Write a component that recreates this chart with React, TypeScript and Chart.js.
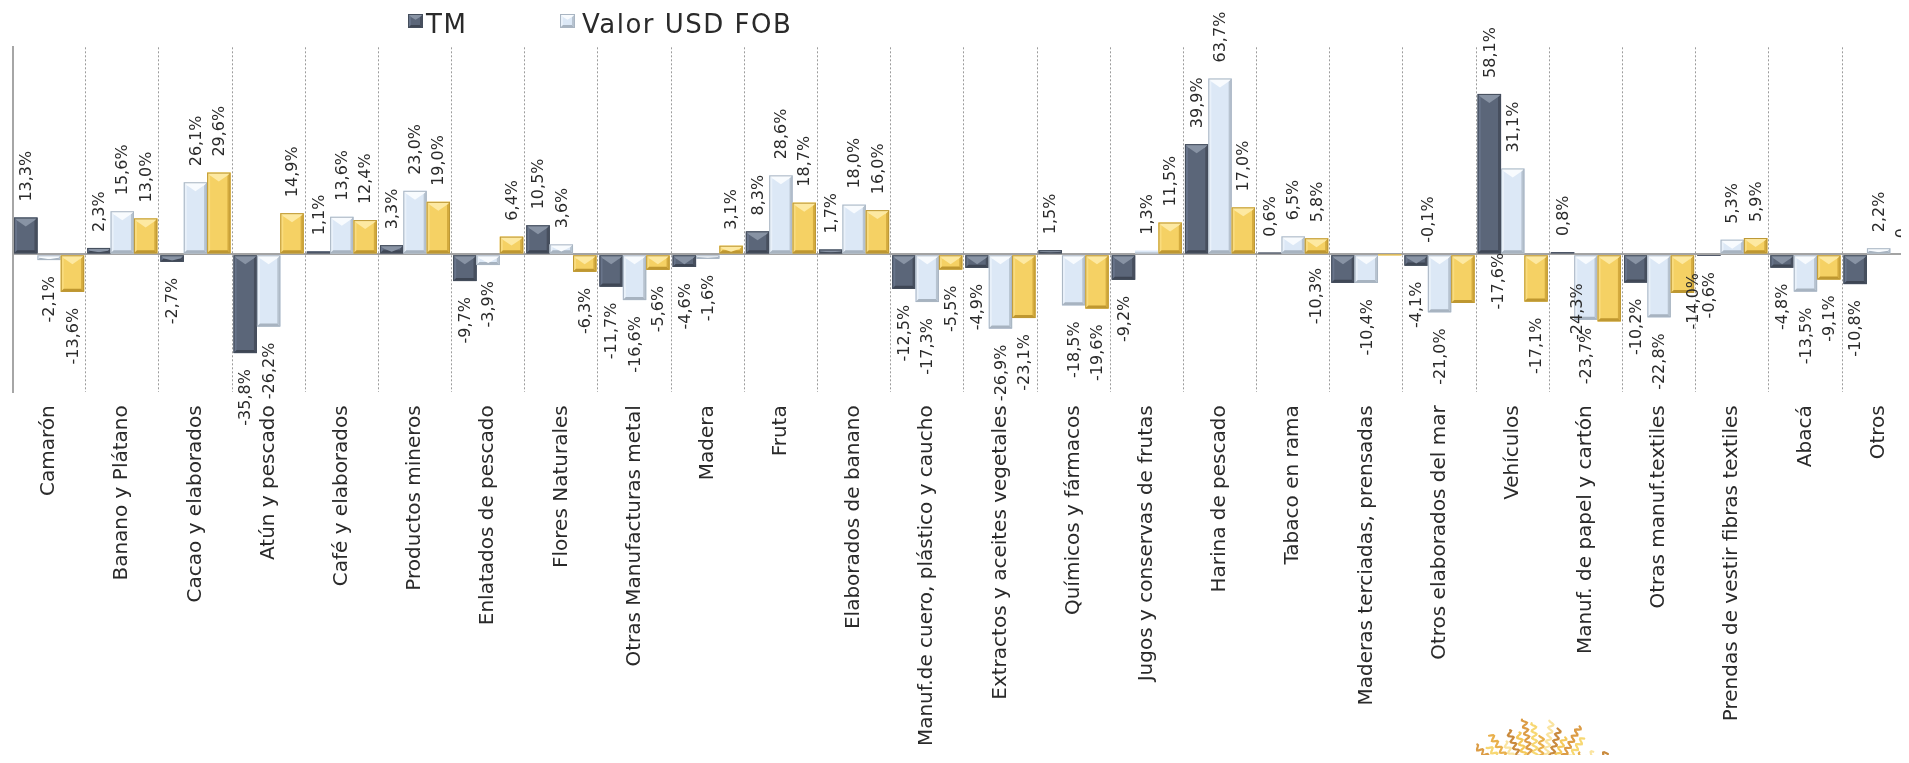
import React, { useEffect, useRef } from 'react';
import { Chart, registerables } from 'chart.js';

Chart.register(...registerables);

const categories = [
  'Camarón',
  'Banano y Plátano',
  'Cacao y elaborados',
  'Atún y pescado',
  'Café y elaborados',
  'Productos mineros',
  'Enlatados de pescado',
  'Flores Naturales',
  'Otras Manufacturas metal',
  'Madera',
  'Fruta',
  'Elaborados de banano',
  'Manuf.de cuero, plástico y caucho',
  'Extractos y aceites vegetales',
  'Químicos y fármacos',
  'Jugos y conservas de frutas',
  'Harina de pescado',
  'Tabaco en rama',
  'Maderas terciadas, prensadas',
  'Otros elaborados del mar',
  'Vehículos',
  'Manuf. de papel y cartón',
  'Otras manuf.textiles',
  'Prendas de vestir fibras textiles',
  'Abacá',
  'Otros',
];

const tmValues = [13.3, 2.3, -2.7, -35.8, 1.1, 3.3, -9.7, 10.5, -11.7, -4.6, 8.3, 1.7, -12.5, -4.9, 1.5, -9.2, 39.9, 0.6, -10.3, -4.1, 58.1, 0.8, -10.2, -0.6, -4.8, -10.8];
const valorValues = [-2.1, 15.6, 26.1, -26.2, 13.6, 23.0, -3.9, 3.6, -16.6, -1.6, 28.6, 18.0, -17.3, -26.9, -18.5, 1.3, 63.7, 6.5, -10.4, -21.0, 31.1, -23.7, -22.8, 5.3, -13.5, 2.2];
const precioValues = [-13.6, 13.0, 29.6, 14.9, 12.4, 19.0, 6.4, -6.3, -5.6, 3.1, 18.7, 16.0, -5.5, -23.1, -19.6, 11.5, 17.0, 5.8, -0.1, -17.6, -17.1, -24.3, -14.0, 5.9, -9.1, 0];

const seriesNames = ['TM', 'Valor USD FOB', 'Precio'];
const legendSeries = ['TM', 'Valor USD FOB'];

const yMin = -50;
const yMax = 75;
const yStep = 25;

// manual label displacements (px) as placed in the original
const labelNudges = [
  { series: 0, index: 18, dx: -27, dy: -31 },
  { series: 2, index: 18, dx: 38, dy: -75 },
  { series: 2, index: 19, dx: 35, dy: -66 },
  { series: 1, index: 21, dx: 0, dy: -8 },
  { series: 2, index: 21, dx: -32, dy: -54 },
  { series: 2, index: 22, dx: 10, dy: -36 },
];

const FONT = '"DejaVu Sans", "Liberation Sans", sans-serif';
const WEIGHT = 'normal';
const TEXT = '#2a2a2a';

const palettes = [
  { base: '#5b6679', top: '#8893a4', left: '#68748a', right: '#474f5e', bottom: '#3e4654', edge: '#454e5c' },
  { base: '#dce8f6', top: '#f8fbfe', left: '#e9f1fa', right: '#b7c3d0', bottom: '#a7b3c0', edge: '#a9b5c2' },
  { base: '#f5d164', top: '#fde9a2', left: '#f9dc7e', right: '#d4ab3e', bottom: '#bf972f', edge: '#bd9836' },
];

function poly(ctx: CanvasRenderingContext2D, pts: number[][], color: string) {
  ctx.beginPath();
  ctx.moveTo(pts[0][0], pts[0][1]);
  for (let i = 1; i < pts.length; i++) ctx.lineTo(pts[i][0], pts[i][1]);
  ctx.closePath();
  ctx.fillStyle = color;
  ctx.fill();
}

function bevelRect(ctx: CanvasRenderingContext2D, l: number, t: number, r: number, b: number, p: any) {
  const w = r - l;
  const h = b - t;
  if (w <= 0 || h <= 0) return;
  ctx.fillStyle = p.base;
  ctx.fillRect(l, t, w, h);
  if (h < 3) {
    ctx.fillStyle = p.right;
    ctx.fillRect(l, b - Math.min(1, h), w, Math.min(1, h));
    return;
  }
  const s = Math.min(3, w / 4, h / 2);
  const v = Math.min(9, w / 2.6, h * 0.8);
  const cx = (l + r) / 2;
  poly(ctx, [[l, t], [l + s, t + s], [l + s, b - s], [l, b]], p.left);
  poly(ctx, [[r, t], [r, b], [r - s, b - s], [r - s, t + s]], p.right);
  poly(ctx, [[l, b], [l + s, b - s], [r - s, b - s], [r, b]], p.bottom);
  poly(ctx, [[l, t], [r, t], [r - s, t + s], [cx, t + v], [l + s, t + s]], p.top);
  ctx.lineWidth = 1;
  ctx.strokeStyle = p.edge;
  ctx.strokeRect(l + 0.5, t + 0.5, w - 1, h - 1);
}

function fmt(v: number) {
  if (v === 0) return '0';
  return v.toFixed(1).replace('.', ',') + '%';
}

const LABEL_GAP = 16;

const barPlugin = {
  id: 'bevelBarsAndLabels',
  afterDatasetsDraw(chart: any) {
    const ctx: CanvasRenderingContext2D = chart.ctx;
    const area = chart.chartArea;
    ctx.save();
    chart.data.datasets.forEach((ds: any, di: number) => {
      const meta = chart.getDatasetMeta(di);
      meta.data.forEach((el: any) => {
        const { x, y, base, width } = el.getProps(['x', 'y', 'base', 'width'], true);
        const l = x - width / 2;
        const r = x + width / 2;
        const t = Math.min(y, base);
        const b = Math.max(y, base);
        if (r < area.left || l > chart.width) return;
        bevelRect(ctx, l, t, r, b, palettes[di]);
      });
    });
    ctx.restore();

    ctx.save();
    ctx.font = `${WEIGHT} 16px ${FONT}`;
    ctx.fillStyle = TEXT;
    ctx.textBaseline = 'middle';
    chart.data.datasets.forEach((ds: any, di: number) => {
      const meta = chart.getDatasetMeta(di);
      meta.data.forEach((el: any, i: number) => {
        const v = ds.data[i];
        if (v === null || v === undefined) return;
        const { x, y, base } = el.getProps(['x', 'y', 'base'], true);
        const n = labelNudges.find((q) => q.series === di && q.index === i);
        const dx = 1 + (n ? n.dx : 0);
        const dy = n ? n.dy : 0;
        ctx.save();
        if (v >= 0) {
          ctx.translate(x + dx, Math.min(y, base) - LABEL_GAP + dy);
          ctx.rotate(-Math.PI / 2);
          ctx.textAlign = 'left';
        } else {
          ctx.translate(x + dx, Math.max(y, base) + LABEL_GAP + dy);
          ctx.rotate(-Math.PI / 2);
          ctx.textAlign = 'right';
        }
        ctx.fillText(fmt(v), 0, 0);
        ctx.restore();
      });
    });
    ctx.restore();
  },
};

const legendPlugin = {
  id: 'customLegend',
  afterDraw(chart: any) {
    const ctx: CanvasRenderingContext2D = chart.ctx;
    const items = [
      { name: legendSeries[0], pal: palettes[0], icon: 400, text: 418 },
      { name: legendSeries[1], pal: palettes[1], icon: 552, text: 574 },
    ];
    ctx.save();
    items.forEach((it) => {
      bevelRect(ctx, it.icon, 6, it.icon + 15, 20, it.pal);
      ctx.font = `${WEIGHT} 26px ${FONT}`;
      (ctx as any).letterSpacing = '1.5px';
      ctx.fillStyle = TEXT;
      ctx.textAlign = 'left';
      ctx.textBaseline = 'alphabetic';
      ctx.fillText(it.name, it.text, 25);
    });
    ctx.restore();
  },
};

const sunRays = [74, 82, 70, 86, 76, 66, 80, 88, 72, 78, 84, 68, 81, 86, 74, 79, 70, 84, 76, 85, 71, 78, 83, 69];
const sunColors = ['#f7d873', '#dc9c45', '#f4c95c', '#c98a3d', '#fae4a0', '#e9b04c'];

const sunPlugin = {
  id: 'sunLogo',
  afterDraw(chart: any) {
    const ctx: CanvasRenderingContext2D = chart.ctx;
    const cx = 1530;
    const cy = 796;
    ctx.save();
    ctx.lineWidth = 2.2;
    ctx.lineCap = 'round';
    sunRays.forEach((ro, k) => {
      const ang = ((18 + (144 * k) / (sunRays.length - 1)) * Math.PI) / 180;
      const ux = Math.cos(ang);
      const uy = -Math.sin(ang);
      const px = -uy;
      const py = ux;
      ctx.beginPath();
      for (let rr = 34; rr <= ro; rr += 1) {
        const off = 2.4 * Math.sin(rr * 0.9 + k * 1.7);
        const X = cx + ux * rr + px * off;
        const Y = cy + uy * rr + py * off;
        if (rr === 34) ctx.moveTo(X, Y);
        else ctx.lineTo(X, Y);
      }
      ctx.strokeStyle = sunColors[k % sunColors.length];
      ctx.stroke();
    });
    ctx.restore();
  },
};

export default function App() {
  const ref = useRef<HTMLCanvasElement | null>(null);

  useEffect(() => {
    if (!ref.current) return;
    const dsColors = palettes.map((p) => p.base);
    const chart = new Chart(ref.current, {
      type: 'bar',
      data: {
        labels: categories,
        datasets: [
          { label: seriesNames[0], data: tmValues, backgroundColor: dsColors[0], borderWidth: 0 },
          { label: seriesNames[1], data: valorValues, backgroundColor: dsColors[1], borderWidth: 0 },
          { label: seriesNames[2], data: precioValues, backgroundColor: dsColors[2], borderWidth: 0 },
        ],
      },
      options: {
        responsive: false,
        animation: false,
        devicePixelRatio: 1,
        layout: { padding: { left: 4.5, right: 12.8, top: 39.3, bottom: 0 } },
        datasets: { bar: { categoryPercentage: 0.957, barPercentage: 1.0 } },
        plugins: {
          legend: { display: false },
          tooltip: { enabled: false },
        },
        scales: {
          x: {
            grid: { offset: true, color: '#9c9c9c', lineWidth: 1, drawTicks: false },
            border: { display: false, dash: [2, 2] },
            ticks: {
              autoSkip: false,
              minRotation: 90,
              maxRotation: 90,
              padding: 13,
              color: TEXT,
              font: { family: FONT, size: 20, weight: WEIGHT },
            },
            afterFit: (s: any) => {
              s.height = 370.7;
            },
          },
          y: {
            min: yMin,
            max: yMax,
            ticks: { display: false, stepSize: yStep },
            grid: {
              drawTicks: false,
              lineWidth: 2,
              color: (c: any) => (c.tick && c.tick.value === 0 ? '#a3a3a3' : 'rgba(0,0,0,0)'),
            },
            border: { display: true, color: '#a6a6a6', width: 2 },
          },
        },
      } as any,
      plugins: [barPlugin, legendPlugin, sunPlugin],
    });
    return () => chart.destroy();
  }, []);

  return (
    <div style={{ width: 1901, height: 755, overflow: 'hidden', marginBottom: -8, position: 'relative' }}>
      <canvas ref={ref} width={1920} height={755} style={{ display: 'block', width: 1920, height: 755 }} />
    </div>
  );
}
